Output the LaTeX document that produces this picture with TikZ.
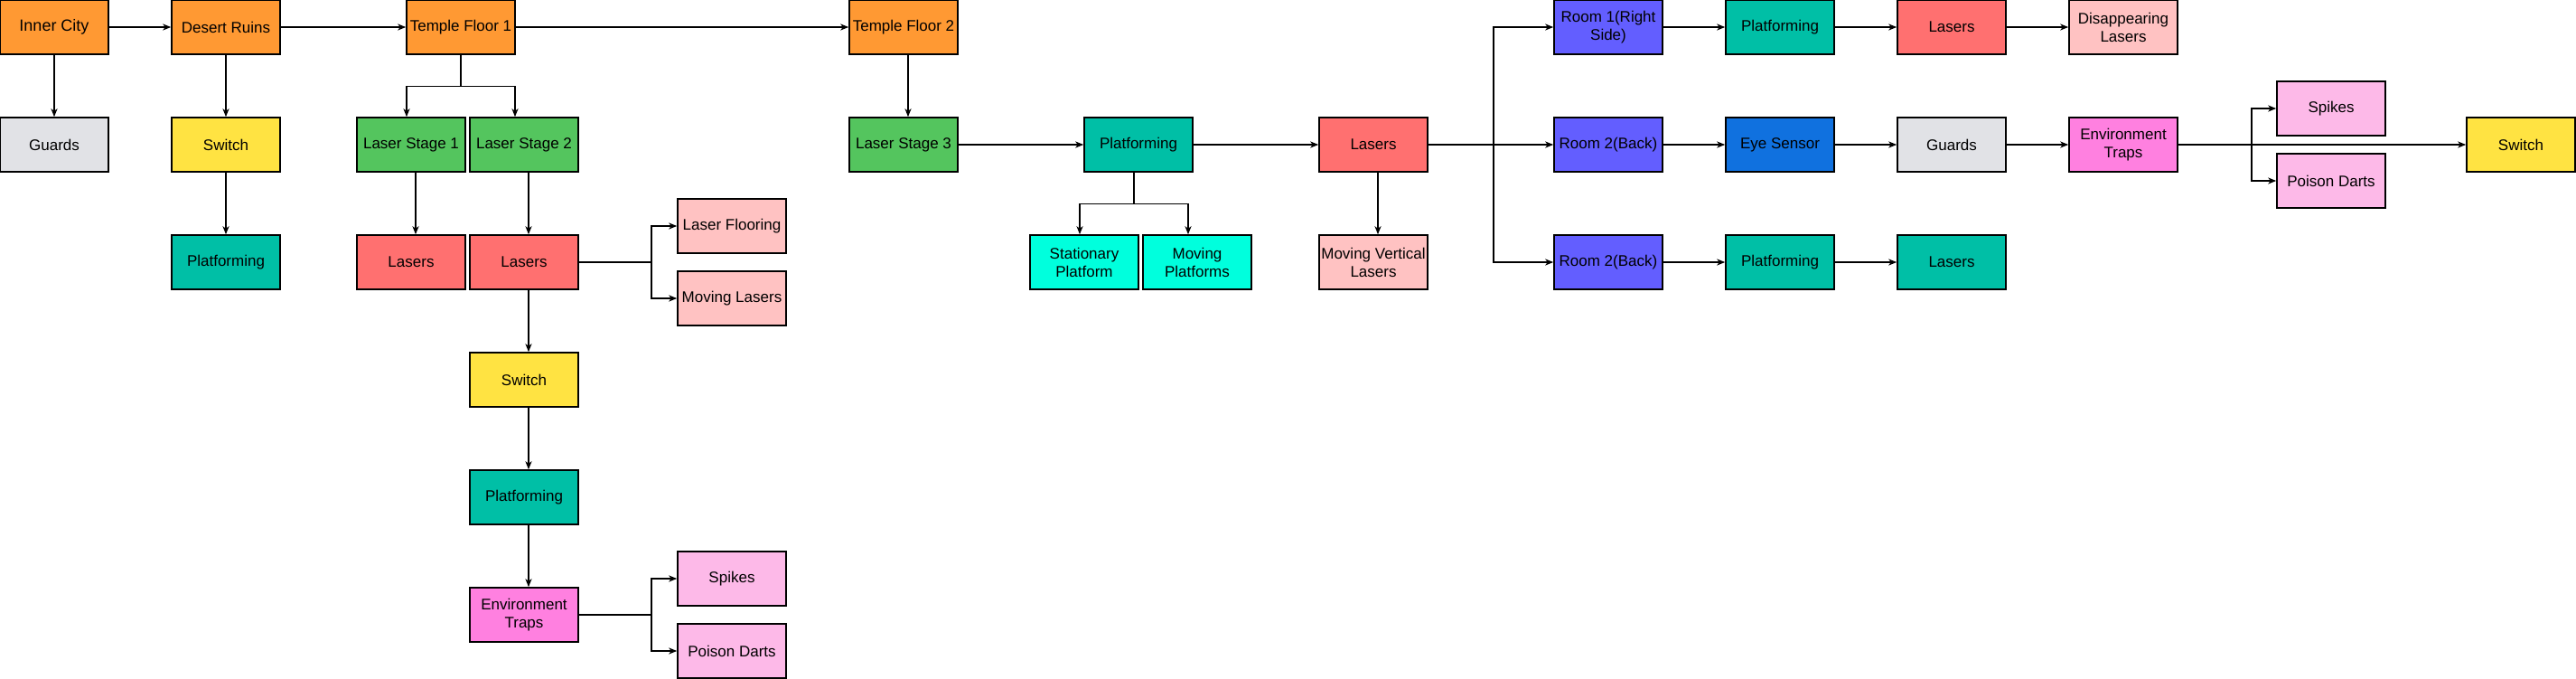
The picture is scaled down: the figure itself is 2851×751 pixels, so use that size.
\documentclass[tikz,border=0pt]{standalone}
\usepackage{fontspec}
\setmainfont{Liberation Sans}
\usetikzlibrary{arrows.meta}
\definecolor{areaOrange}{HTML}{FF9933}
\definecolor{guardGrey}{HTML}{E1E2E6}
\definecolor{switchYellow}{HTML}{FFE342}
\definecolor{platTeal}{HTML}{00BFA6}
\definecolor{stageGreen}{HTML}{54C55E}
\definecolor{laserRed}{HTML}{FF7070}
\definecolor{laserPink}{HTML}{FFC2C2}
\definecolor{platCyan}{HTML}{00FFDD}
\definecolor{roomPurple}{HTML}{635EFF}
\definecolor{sensorBlue}{HTML}{1071DF}
\definecolor{trapMagenta}{HTML}{FF80E0}
\definecolor{trapPink}{HTML}{FDB9E8}
\tikzset{%
  >={Stealth[width=7pt,length=9pt,inset=2.5pt]},
  % Specifications for style of nodes:
          base/.style = {rectangle, draw=black, line width=1.5pt,
                         minimum width=120pt, minimum height=60pt,
                         inner sep=0pt, text centered, align=center,
                         font=\fontsize{17}{20}\selectfont},
          area/.style = {base, fill=areaOrange},
         guard/.style = {base, fill=guardGrey},
     switchBox/.style = {base, fill=switchYellow},
   platformBox/.style = {base, fill=platTeal},
    laserStage/.style = {base, fill=stageGreen},
         laser/.style = {base, fill=laserRed},
     laserKind/.style = {base, fill=laserPink},
  platformKind/.style = {base, fill=platCyan},
          room/.style = {base, fill=roomPurple},
        sensor/.style = {base, fill=sensorBlue},
          trap/.style = {base, fill=trapMagenta},
      trapKind/.style = {base, fill=trapPink},
}

\begin{document}
\begin{tikzpicture}[node distance=130pt, line width=1.5pt]
  \useasboundingbox (0,0) rectangle (2851pt,-751pt);
  % Specification of nodes (position, etc.)
  \node (innerCity) [area, font=\fontsize{18}{21}\selectfont] at (60pt,-30pt) {Inner City};
  \node (desertRuins) [area, right of=innerCity, xshift=60pt] {Desert Ruins};
  \node (templeOne) [area, right of=desertRuins, xshift=130pt] {Temple Floor 1};
  \node (templeTwo) [area, right of=templeOne, xshift=360pt] {Temple Floor 2};
  \node (guardsA) [guard, below of=innerCity] {Guards};
  \node (switchA) [switchBox, below of=desertRuins] {Switch};
  \node (platformA) [platformBox, below of=switchA] {Platforming};
  % first temple floor
  \node (stageOne) [laserStage, below of=templeOne, xshift=-55pt] {Laser Stage 1};
  \node (stageTwo) [laserStage, below of=templeOne, xshift=70pt] {Laser Stage 2};
  \node (lasersOne) [laser, below of=stageOne] {Lasers};
  \node (lasersTwo) [laser, below of=stageTwo] {Lasers};
  \node (laserFloor) [laserKind, right of=lasersTwo, xshift=100pt, yshift=40pt] {Laser Flooring};
  \node (movingLasers) [laserKind, right of=lasersTwo, xshift=100pt, yshift=-40pt] {Moving Lasers};
  \node (switchC) [switchBox, below of=lasersTwo] {Switch};
  \node (platformC) [platformBox, below of=switchC] {Platforming};
  \node (trapsC) [trap, below of=platformC] {Environment\\Traps};
  \node (spikesC) [trapKind, right of=trapsC, xshift=100pt, yshift=40pt] {Spikes};
  \node (dartsC) [trapKind, right of=trapsC, xshift=100pt, yshift=-40pt] {Poison Darts};
  % second temple floor
  \node (stageThree) [laserStage, below of=templeTwo] {Laser Stage 3};
  \node (platformB) [platformBox, right of=stageThree, xshift=130pt] {Platforming};
  \node (stationary) [platformKind, below of=platformB, xshift=-60pt] {Stationary\\Platform};
  \node (movingPlat) [platformKind, below of=platformB, xshift=65pt] {Moving\\Platforms};
  \node (lasersB) [laser, right of=platformB, xshift=130pt] {Lasers};
  \node (verticalLasers) [laserKind, below of=lasersB] {Moving Vertical\\Lasers};
  % rooms
  \node (roomTwo) [room, right of=lasersB, xshift=130pt] {Room 2(Back)};
  \node (roomOne) [room, above of=roomTwo] {Room 1(Right\\Side)};
  \node (roomThree) [room, below of=roomTwo] {Room 2(Back)};
  \node (platformR1) [platformBox, right of=roomOne, xshift=60pt] {Platforming};
  \node (lasersR1) [laser, right of=platformR1, xshift=60pt] {Lasers};
  \node (vanishLasers) [laserKind, right of=lasersR1, xshift=60pt] {Disappearing\\Lasers};
  \node (eyeSensor) [sensor, right of=roomTwo, xshift=60pt] {Eye Sensor};
  \node (guardsB) [guard, right of=eyeSensor, xshift=60pt] {Guards};
  \node (trapsB) [trap, right of=guardsB, xshift=60pt] {Environment\\Traps};
  \node (spikesB) [trapKind, right of=trapsB, xshift=100pt, yshift=40pt] {Spikes};
  \node (dartsB) [trapKind, right of=trapsB, xshift=100pt, yshift=-40pt] {Poison Darts};
  \node (switchB) [switchBox, right of=trapsB, xshift=310pt] {Switch};
  \node (platformR3) [platformBox, right of=roomThree, xshift=60pt] {Platforming};
  \node (lasersR3) [platformBox, right of=platformR3, xshift=60pt] {Lasers};
  % Specification of lines between nodes specified above
  \draw[->] (innerCity) -- (desertRuins);
  \draw[->] (desertRuins) -- (templeOne);
  \draw[->] (templeOne) -- (templeTwo);
  \draw[->] (innerCity) -- (guardsA);
  \draw[->] (desertRuins) -- (switchA);
  \draw[->] (switchA) -- (platformA);
  \draw[->] (templeOne.south) -- ++(0,-35pt) -| ([xshift=-5pt]stageOne.north);
  \draw[->] (templeOne.south) -- ++(0,-35pt) -| ([xshift=-10pt]stageTwo.north);
  \draw[->] ([xshift=5pt]stageOne.south) -- ([xshift=5pt]lasersOne.north);
  \draw[->] ([xshift=5pt]stageTwo.south) -- ([xshift=5pt]lasersTwo.north);
  \draw[->] (lasersTwo.east) -- ++(80pt,0) |- (laserFloor.west);
  \draw[->] (lasersTwo.east) -- ++(80pt,0) |- (movingLasers.west);
  \draw[->] ([xshift=5pt]lasersTwo.south) -- ([xshift=5pt]switchC.north);
  \draw[->] ([xshift=5pt]switchC.south) -- ([xshift=5pt]platformC.north);
  \draw[->] ([xshift=5pt]platformC.south) -- ([xshift=5pt]trapsC.north);
  \draw[->] (trapsC.east) -- ++(80pt,0) |- (spikesC.west);
  \draw[->] (trapsC.east) -- ++(80pt,0) |- (dartsC.west);
  \draw[->] ([xshift=5pt]templeTwo.south) -- ([xshift=5pt]stageThree.north);
  \draw[->] (stageThree) -- (platformB);
  \draw[->] ([xshift=-5pt]platformB.south) -- ++(0,-35pt) -| ([xshift=-5pt]stationary.north);
  \draw[->] ([xshift=-5pt]platformB.south) -- ++(0,-35pt) -| ([xshift=-10pt]movingPlat.north);
  \draw[->] (platformB) -- (lasersB);
  \draw[->] ([xshift=5pt]lasersB.south) -- ([xshift=5pt]verticalLasers.north);
  \draw[->] (lasersB) -- (roomTwo);
  \draw[->] (lasersB.east) -- ++(72pt,0) |- (roomOne.west);
  \draw[->] (lasersB.east) -- ++(72pt,0) |- (roomThree.west);
  \draw[->] (roomOne) -- (platformR1);
  \draw[->] (platformR1) -- (lasersR1);
  \draw[->] (lasersR1) -- (vanishLasers);
  \draw[->] (roomTwo) -- (eyeSensor);
  \draw[->] (eyeSensor) -- (guardsB);
  \draw[->] (guardsB) -- (trapsB);
  \draw[->] (trapsB) -- (switchB);
  \draw[->] (trapsB.east) -- ++(81pt,0) |- (spikesB.west);
  \draw[->] (trapsB.east) -- ++(81pt,0) |- (dartsB.west);
  \draw[->] (roomThree) -- (platformR3);
  \draw[->] (platformR3) -- (lasersR3);
\end{tikzpicture}
\end{document}
